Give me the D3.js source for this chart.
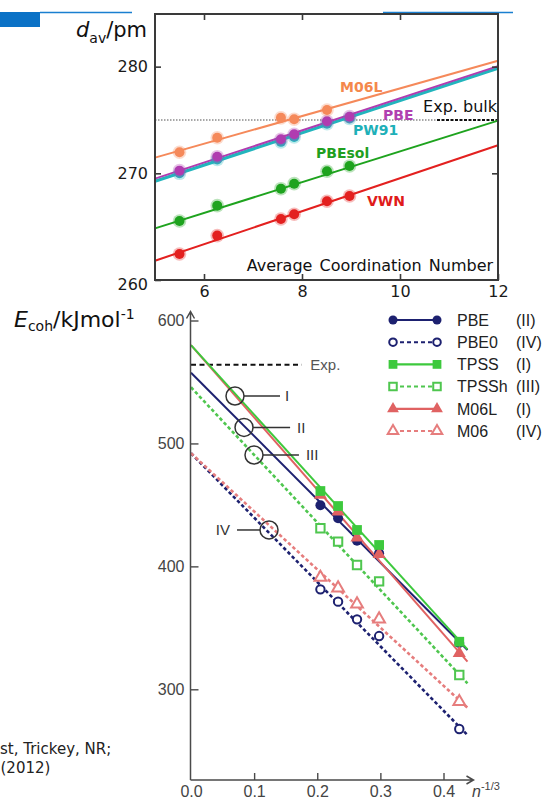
<!DOCTYPE html>
<html>
<head>
<meta charset="utf-8">
<script src="https://cdn.jsdelivr.net/npm/d3@7"></script>
<style>
  body { margin: 0; background: #fff; }
  svg { display: block; }
</style>
</head>
<body>
<div id="chart"></div>
<script>
// ---- top panel: average bond length vs coordination number ----
const cnValues = [5.5, 6.27, 7.57, 7.84, 8.51, 8.97];
const dM06L = [271.97, 273.34, 275.2, 275.07, 275.94];
const dPBE = [270.25, 271.56, 273.19, 273.66, 274.88, 275.31];
const dPW91 = [270.0, 271.3, 272.95, 273.4, 274.65, 275.15];
const dPBEsol = [265.53, 266.97, 268.56, 269.03, 270.19, 270.69];
const dVWN = [262.44, 264.16, 265.72, 266.16, 267.38, 267.88];

// fitted lines, values at cn = 5 and cn = 12
const fitCn = [5, 12];
const fitM06L = [271.47, 280.56];
const fitPBE = [269.5, 280.05];
const fitPW91 = [269.25, 279.85];
const fitPBEsol = [264.84, 274.94];
const fitVWN = [261.81, 272.63];

const expBulk = 275;
const topXTicks = [6, 8, 10, 12];
const topYTicks = [260, 270, 280];

// ---- bottom panel: cohesive energy vs n^-1/3 ----
const nValues = [0.205, 0.233, 0.263, 0.298, 0.425];
const ePBE = [449.7, 439.1, 420.9, 410.6, 337.6];
const ePBE0 = [381.3, 371.3, 356.9, 343.3, 267.7];
const eTPSS = [461.3, 449.1, 429.6, 417.4, 338.7];
const eTPSSh = [431.0, 420.1, 401.1, 387.8, 311.6];
const eM06L = [458.1, 444.5, 423.3, 409.8, 329.3];
const eM06 = [391.0, 382.4, 369.4, 357.1, 289.9];

// fitted lines, values at n^-1/3 = 0 and 0.438
const fitN = [0, 0.438];
const efitPBE = [557.5, 332];
const efitPBE0 = [492, 262.8];
const efitTPSS = [580, 332.5];
const efitTPSSh = [545.7, 304.9];
const efitM06L = [580, 322.5];
const efitM06 = [492, 285];

const expCoh = 564;
const botXTicks = [0, 0.1, 0.2, 0.3, 0.4];
const botYTicks = [300, 400, 500, 600];

const svg = d3.select("#chart").append("svg")
    .attr("width", 542)
    .attr("height", 799);

// header decoration
svg.append("rect").attr("x", 0).attr("y", 12).attr("width", 40).attr("height", 15).attr("fill", "#0b72c6");
svg.append("line").attr("x1", 40).attr("x2", 132).attr("y1", 12.5).attr("y2", 12.5).attr("stroke", "#1a7fd0").attr("stroke-width", 1.5);
svg.append("line").attr("x1", 383).attr("x2", 513).attr("y1", 12.5).attr("y2", 12.5).attr("stroke", "#1a7fd0").attr("stroke-width", 1.5);

/* ================= TOP PANEL ================= */
const xTop = d3.scaleLinear().domain([5, 12]).range([155, 498]);
const yTop = d3.scaleLinear().domain([260, 285]).range([280, 13.3]);
const topFont = "DejaVu Sans, Verdana, sans-serif";

const topG = svg.append("g");

// exp. bulk reference
topG.append("line")
    .attr("x1", xTop(5)).attr("x2", xTop(10.755))
    .attr("y1", yTop(expBulk)).attr("y2", yTop(expBulk))
    .attr("stroke", "#8a8a8a").attr("stroke-width", 1.3)
    .attr("stroke-dasharray", "1.5,1.5");
topG.append("line")
    .attr("x1", xTop(10.755)).attr("x2", xTop(12))
    .attr("y1", yTop(expBulk)).attr("y2", yTop(expBulk))
    .attr("stroke", "#111").attr("stroke-width", 1.8)
    .attr("stroke-dasharray", "3,1.5");

const topSeries = [
    { name: "PW91", color: "#22b5bd", x: cnValues, y: dPW91, fit: fitPW91, w: 3.2, lx: 9.04, ly: 273.59 },
    { name: "PBE", color: "#b03cb0", x: cnValues, y: dPBE, fit: fitPBE, w: 2, lx: 9.653, ly: 275.0 },
    { name: "M06L", color: "#f5895a", x: cnValues.slice(0, 5), y: dM06L, fit: fitM06L, w: 2, lx: 8.776, ly: 277.63 },
    { name: "PBEsol", color: "#1ea31e", x: cnValues, y: dPBEsol, fit: fitPBEsol, w: 2, lx: 8.286, ly: 271.44 },
    { name: "VWN", color: "#e3201f", x: cnValues, y: dVWN, fit: fitVWN, w: 2, lx: 9.327, ly: 266.94 }
];
const labelColors = { PW91: "#1eb0b8", PBE: "#b040b0", M06L: "#f4884c", PBEsol: "#1f9f1f", VWN: "#e01b1b" };

const topLine = d3.line().x(d => xTop(d[0])).y(d => yTop(d[1]));

topSeries.forEach(s => {
    topG.append("path")
        .datum(d3.zip(fitCn, s.fit))
        .attr("d", topLine)
        .attr("fill", "none")
        .attr("stroke", s.color)
        .attr("stroke-width", s.w);
});

topSeries.forEach(s => {
    const pts = d3.zip(s.x, s.y);
    topG.selectAll(null).data(pts).enter().append("circle")
        .attr("cx", d => xTop(d[0])).attr("cy", d => yTop(d[1]))
        .attr("r", 6.8).attr("fill", s.color).attr("opacity", 0.3);
    topG.selectAll(null).data(pts).enter().append("circle")
        .attr("cx", d => xTop(d[0])).attr("cy", d => yTop(d[1]))
        .attr("r", 5).attr("fill", s.color);
});

topSeries.forEach(s => {
    topG.append("text")
        .attr("x", xTop(s.lx)).attr("y", yTop(s.ly))
        .attr("fill", labelColors[s.name])
        .style("font", `bold 14px ${topFont}`)
        .text(s.name);
});

topG.append("text")
    .attr("x", xTop(11.98)).attr("y", yTop(275.75))
    .attr("text-anchor", "end")
    .attr("fill", "#111")
    .style("font", `16px ${topFont}`)
    .text("Exp. bulk");

topG.append("text")
    .attr("x", xTop(11.9)).attr("y", 271)
    .attr("text-anchor", "end")
    .attr("fill", "#111")
    .style("font", `16px ${topFont}`)
    .style("word-spacing", "2px")
    .text("Average Coordination Number");

// frame and ticks
topG.append("rect")
    .attr("x", 155).attr("y", 14).attr("width", 343).attr("height", 266)
    .attr("fill", "none").attr("stroke", "#3a3a3a").attr("stroke-width", 2);

const tb = topG.append("g").attr("transform", "translate(0,280)")
    .call(d3.axisBottom(xTop).tickValues(topXTicks).tickFormat(d3.format("d")).tickSize(-6).tickPadding(6));
const tl = topG.append("g").attr("transform", "translate(155,0)")
    .call(d3.axisLeft(yTop).tickValues(topYTicks).tickFormat(d3.format("d")).tickSize(-6).tickPadding(7));
const tt = topG.append("g").attr("transform", "translate(0,14)")
    .call(d3.axisTop(xTop).tickValues([6, 8, 10]).tickSize(-6).tickFormat(""));
const tr = topG.append("g").attr("transform", "translate(498,0)")
    .call(d3.axisRight(yTop).tickValues([270, 280]).tickSize(-6).tickFormat(""));
[tb, tl, tt, tr].forEach(g => {
    g.select(".domain").remove();
    g.selectAll(".tick line").attr("stroke", "#3a3a3a").attr("stroke-width", 1.6);
    g.selectAll("text").attr("fill", "#1a1a1a").style("font", `16px ${topFont}`);
});
tl.selectAll(".tick").filter(d => d === 260).select("text").attr("dy", "0.62em");

// top y label
const dLab = topG.append("text").attr("x", 76).attr("y", 37).attr("fill", "#111").style("font", `21px ${topFont}`);
dLab.append("tspan").style("font-style", "italic").text("d");
dLab.append("tspan").attr("dy", 6).style("font-size", "14px").text("av");
dLab.append("tspan").attr("dy", -6).text("/pm");

/* ================= BOTTOM PANEL ================= */
const xBot = d3.scaleLinear().domain([0, 0.4]).range([191, 443.5]);
const yBot = d3.scaleLinear().domain([300, 600]).range([689.3, 320.5]);
const botFont = "Liberation Sans, Arial, Helvetica, sans-serif";
const axisCol = "#4a4a4a";

const botG = svg.append("g");

// Exp. reference
botG.append("line")
    .attr("x1", xBot(0)).attr("x2", xBot(0.1754))
    .attr("y1", yBot(expCoh)).attr("y2", yBot(expCoh))
    .attr("stroke", "#111").attr("stroke-width", 1.8)
    .attr("stroke-dasharray", "5,3.5");
botG.append("text")
    .attr("x", xBot(0.189)).attr("y", yBot(expCoh)).attr("dy", "0.35em")
    .attr("fill", "#555").style("font", `15px ${botFont}`)
    .text("Exp.");

const navy = "#1d2170", green = "#3dc93d", greenL = "#4fc64f", red = "#e06262", redL = "#e67d7d";
const botSeries = [
    { name: "PBE0", ref: "(IV)", color: navy, y: ePBE0, fit: efitPBE0, dash: true, shape: "circle", open: true },
    { name: "M06", ref: "(IV)", color: redL, y: eM06, fit: efitM06, dash: true, shape: "triangle", open: true },
    { name: "TPSSh", ref: "(III)", color: greenL, y: eTPSSh, fit: efitTPSSh, dash: true, shape: "square", open: true },
    { name: "PBE", ref: "(II)", color: navy, y: ePBE, fit: efitPBE, dash: false, shape: "circle", open: false },
    { name: "M06L", ref: "(I)", color: red, y: eM06L, fit: efitM06L, dash: false, shape: "triangle", open: false },
    { name: "TPSS", ref: "(I)", color: green, y: eTPSS, fit: efitTPSS, dash: false, shape: "square", open: false }
];
const legendOrder = ["PBE", "PBE0", "TPSS", "TPSSh", "M06L", "M06"];

const botLine = d3.line().x(d => xBot(d[0])).y(d => yBot(d[1]));

function drawMarker(g, s, px, py, scale) {
    let m;
    if (s.shape === "circle") {
        m = g.append("circle").attr("cx", px).attr("cy", py).attr("r", (s.open ? 4.2 : 5) * scale);
    } else {
        const type = s.shape === "square" ? d3.symbolSquare : d3.symbolTriangle;
        const size = s.shape === "square" ? (s.open ? 70 : 95) : (s.open ? 60 : 75);
        m = g.append("path").attr("transform", `translate(${px},${py})`)
            .attr("d", d3.symbol(type).size(size * scale * scale)());
    }
    if (s.open) {
        m.attr("fill", "#fff").attr("stroke", s.color).attr("stroke-width", 2);
    } else {
        m.attr("fill", s.color);
    }
}

botSeries.forEach(s => {
    botG.append("path")
        .datum(d3.zip(fitN, s.fit))
        .attr("d", botLine)
        .attr("fill", "none")
        .attr("stroke", s.color)
        .attr("stroke-width", s.dash ? 2.6 : 2)
        .attr("stroke-dasharray", s.dash ? "3.5,2.5" : null);
});
botSeries.forEach(s => {
    d3.zip(nValues, s.y).forEach(d => drawMarker(botG, s, xBot(d[0]), yBot(d[1]), 1));
});

// callouts
const callouts = [
    { label: "I", cx: 0.0697, cE: 538.6, x1: 0.084, x2: 0.141, lx: 0.149, anchor: "start" },
    { label: "II", cx: 0.084, cE: 513.0, x1: 0.0982, x2: 0.157, lx: 0.168, anchor: "start" },
    { label: "III", cx: 0.0998, cE: 490.6, x1: 0.114, x2: 0.171, lx: 0.182, anchor: "start" },
    { label: "IV", cx: 0.1236, cE: 429.6, x1: 0.0729, x2: 0.1093, lx: 0.0618, anchor: "end" }
];
callouts.forEach(c => {
    botG.append("circle")
        .attr("cx", xBot(c.cx)).attr("cy", yBot(c.cE)).attr("r", 9)
        .attr("fill", "none").attr("stroke", "#333").attr("stroke-width", 1.5);
    botG.append("line")
        .attr("x1", xBot(c.x1)).attr("x2", xBot(c.x2))
        .attr("y1", yBot(c.cE)).attr("y2", yBot(c.cE))
        .attr("stroke", "#333").attr("stroke-width", 1.5);
    botG.append("text")
        .attr("x", xBot(c.lx)).attr("y", yBot(c.cE)).attr("dy", "0.36em")
        .attr("text-anchor", c.anchor)
        .attr("fill", "#333").style("font", `15px ${botFont}`)
        .text(c.label);
});

// axes
const bx = botG.append("g").attr("transform", "translate(0,780)")
    .call(d3.axisBottom(xBot).tickValues(botXTicks).tickFormat(d3.format(".1f")).tickSize(-7).tickPadding(6));
const by = botG.append("g").attr("transform", "translate(190.5,0)")
    .call(d3.axisLeft(yBot).tickValues(botYTicks).tickSize(-8).tickPadding(6));
[bx, by].forEach(g => {
    g.select(".domain").remove();
    g.selectAll(".tick line").attr("stroke", axisCol).attr("stroke-width", 1.4);
    g.selectAll("text").attr("fill", "#444").style("font", `16px ${botFont}`);
});
bx.selectAll(".tick").filter(d => d === 0).select("line").remove();

botG.append("path")
    .attr("d", "M190.5,780 V312 M186.5,318.5 L190.5,311.5 L194.5,318.5 M190.5,780 H473 M466.5,776 L473.5,780 L466.5,784")
    .attr("fill", "none").attr("stroke", axisCol).attr("stroke-width", 1.5);

const nLab = botG.append("text").attr("x", 472).attr("y", 797).attr("fill", "#444").style("font", `16px ${botFont}`);
nLab.append("tspan").style("font-style", "italic").text("n");
nLab.append("tspan").attr("dy", -7).style("font-size", "11px").text("-1/3");

// legend
const legend = botG.append("g");
legendOrder.forEach((name, i) => {
    const s = botSeries.find(b => b.name === name);
    const yy = 320 + i * 22.2;
    legend.append("line")
        .attr("x1", 393).attr("x2", 437).attr("y1", yy).attr("y2", yy)
        .attr("stroke", s.color).attr("stroke-width", s.dash ? 2 : 2.2)
        .attr("stroke-dasharray", s.dash ? "4,3" : null);
    drawMarker(legend, s, 393, yy, 0.9);
    drawMarker(legend, s, 437, yy, 0.9);
    legend.append("text").attr("x", 457).attr("y", yy).attr("dy", "0.36em")
        .attr("fill", "#222").style("font", `16px ${botFont}`).text(name);
    legend.append("text").attr("x", 516).attr("y", yy).attr("dy", "0.36em")
        .attr("fill", "#222").style("font", `16px ${botFont}`).text(s.ref);
});

// bottom y label
const eLab = svg.append("text").attr("x", 14).attr("y", 327).attr("fill", "#111").style("font", `22px ${topFont}`);
eLab.append("tspan").style("font-style", "italic").text("E");
eLab.append("tspan").attr("dy", 4).style("font-size", "14px").text("coh");
eLab.append("tspan").attr("dy", -4).text("/kJmol");
eLab.append("tspan").attr("dy", -8).style("font-size", "14px").text("-1");

// citation fragment
svg.append("text").attr("x", 0).attr("y", 754).attr("fill", "#222").style("font", `15px ${topFont}`).text("st, Trickey, NR;");
svg.append("text").attr("x", 0.5).attr("y", 773).attr("fill", "#222").style("font", `15px ${topFont}`).text("(2012)");
</script>
</body>
</html>
